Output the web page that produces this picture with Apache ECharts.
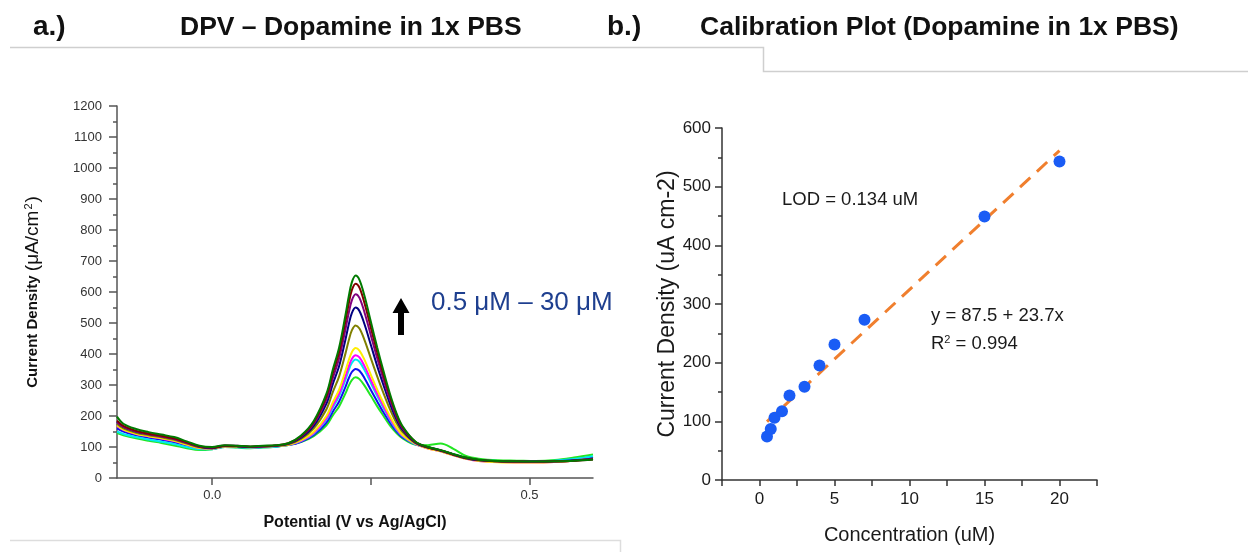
<!DOCTYPE html>
<html>
<head>
<meta charset="utf-8">
<script src="https://cdn.jsdelivr.net/npm/echarts@6/dist/echarts.min.js"></script>
<style>
html,body{margin:0;padding:0;background:#fff;}
#c{width:1248px;height:552px;}
</style>
</head>
<body>
<div id="c"></div>
<script>
// ---------- Panel a: DPV curves ----------
const potentials = [-0.15,-0.14,-0.12,-0.10,-0.08,-0.06,-0.04,-0.02,0.00,0.02,0.04,0.06,0.08,0.10,
  0.12,0.14,0.16,0.18,0.19,0.20,0.21,0.215,0.22,0.226,0.232,0.24,0.25,0.26,0.27,0.28,0.29,0.30,0.32,
  0.34,0.36,0.38,0.40,0.42,0.45,0.48,0.51,0.54,0.57,0.60];

const curveLime    = [145,138,128,120,113,105,96,90,93,100,98,96,98,101, 106,116,135,170,202,231,273,297,316,325,319,298,265,231,200,170,146,128,108, 106,111,94,71,62,57,56,55,58,66,76];
const curveBlue    = [160,150,138,130,123,115,104,95,94,101,100,98,100,102, 106,117,139,179,214,247,294,321,342,352,346,322,284,247,211,179,151,131,109, 99,89,76,64,57,54,53,54,55,60,68];
const curveCyan    = [150,142,132,124,117,110,100,93,93,100,99,97,99,101, 107,119,143,188,227,264,317,347,371,382,375,348,306,264,225,188,157,135,109, 99,89,77,65,58,55,54,54,56,61,70];
const curveMagenta = [168,155,142,134,127,119,107,97,95,102,102,99,101,103, 107,120,145,192,234,272,328,359,384,396,389,361,316,272,231,192,160,136,110, 95,86,73,62,55,52,50,50,52,56,62];
const curveYellow  = [170,156,143,135,128,120,108,97,95,102,101,99,101,103, 107,122,149,200,244,285,346,379,406,419,411,381,333,285,241,200,165,139,111, 95,86,73,62,55,51,50,50,52,56,62];
const curveOlive   = [175,160,146,138,131,123,111,99,96,103,102,100,102,104, 109,126,160,222,277,328,402,443,476,492,482,445,386,328,273,222,179,148,113, 98,88,75,64,58,54,53,52,53,56,61];
const curveNavy    = [182,165,150,142,135,127,114,101,96,103,102,100,102,104, 110,130,168,240,303,361,447,494,532,550,539,496,429,361,299,240,191,155,114, 98,88,75,64,57,54,53,53,54,57,63];
const curvePurple  = [180,165,150,141,134,126,113,101,98,105,104,101,102,104, 111,133,175,254,322,386,480,531,573,593,581,534,460,386,317,254,199,160,116, 99,89,76,65,58,54,53,52,53,56,61];
const curveDkRed   = [185,168,152,143,136,128,115,102,98,104,103,101,103,105, 112,135,180,264,338,406,506,561,606,627,614,564,485,406,332,264,206,164,117, 99,89,76,65,58,54,53,53,54,56,60];
const curveDkGreen = [198,175,158,148,140,132,118,104,100,106,104,102,104,106, 112,137,184,272,349,421,526,584,631,653,639,587,504,421,344,272,211,167,118, 100,90,77,66,59,55,54,53,54,56,60];

const dpvCurves = [curveLime, curveBlue, curveCyan, curveMagenta, curveYellow, curveOlive, curveNavy, curvePurple, curveDkRed, curveDkGreen];
const dpvColors = ['#22e622','#1010f0','#00e8f0','#ff00ff','#ffee00','#808000','#000080','#800080','#800000','#007a00'];

const dpvXTicks = [0, 0.25, 0.5];
const dpvXLabels = [0, 0.5];

// ---------- Panel b: calibration ----------
const concX = [0.5, 0.75, 1, 1.5, 2, 3, 4, 5, 7, 15, 20];
const currY = [74, 87, 106, 117, 144, 159, 195, 231, 273, 449, 543];
const fitX = [0.5, 20];
const fitY = [99.4, 561.5];
const calXTicks = [-2.5,0,2.5,5,7.5,10,12.5,15,17.5,20,22.5];
const calXLabels = [0,5,10,15,20];

const FONT = '"Liberation Sans", Arial, sans-serif';

const chart = echarts.init(document.getElementById('c'), null, {renderer:'canvas'});

const series = [];
dpvCurves.forEach((c, i) => {
  series.push({
    type: 'line', xAxisIndex: 0, yAxisIndex: 0,
    data: potentials.map((p, k) => [p, c[k]]),
    showSymbol: false, smooth: 0.35,
    lineStyle: {color: dpvColors[i], width: 2},
    itemStyle: {color: dpvColors[i]},
    z: 2 + i, silent: true, animation: false
  });
});
series.push({
  type: 'line', xAxisIndex: 1, yAxisIndex: 1,
  data: fitX.map((x, k) => [x, fitY[k]]),
  showSymbol: false,
  lineStyle: {color: '#F07F2E', width: 3, type: [14, 9]},
  z: 3, animation: false, silent: true
});
series.push({
  type: 'scatter', xAxisIndex: 1, yAxisIndex: 1,
  data: concX.map((x, k) => [x, currY[k]]),
  symbolSize: 12,
  itemStyle: {color: '#1A5CF5', opacity: 1},
  z: 4, animation: false, silent: true
});

const option = {
  animation: false,
  backgroundColor: '#ffffff',
  grid: [
    {left: 117, top: 106, width: 476, height: 372},
    {left: 722, top: 128, width: 375, height: 352}
  ],
  xAxis: [
    {
      gridIndex: 0, type: 'value', min: -0.15, max: 0.6,
      name: 'Potential (V vs Ag/AgCl)', nameLocation: 'middle', nameGap: 37,
      nameTextStyle: {fontFamily: FONT, fontSize: 16, fontWeight: 'bold', color: '#111'},
      axisLine: {show: true, onZero: false, lineStyle: {color: '#555', width: 1.5}},
      axisTick: {show: true, length: 7, customValues: dpvXTicks, lineStyle: {color: '#555', width: 1.5}},
      axisLabel: {customValues: dpvXLabels, margin: 11, fontFamily: FONT, fontSize: 13, color: '#333',
        formatter: v => v.toFixed(1)},
      splitLine: {show: false}
    },
    {
      gridIndex: 1, type: 'value', min: -2.5, max: 22.5,
      name: 'Concentration (uM)', nameLocation: 'middle', nameGap: 45,
      nameTextStyle: {fontFamily: FONT, fontSize: 20, color: '#1a1a1a'},
      axisLine: {show: true, onZero: false, lineStyle: {color: '#333', width: 1.5}},
      axisTick: {show: true, length: 6, customValues: calXTicks, lineStyle: {color: '#333', width: 1.5}},
      axisLabel: {customValues: calXLabels, margin: 11, fontFamily: FONT, fontSize: 17, color: '#1a1a1a'},
      splitLine: {show: false}
    }
  ],
  yAxis: [
    {
      gridIndex: 0, type: 'value', min: 0, max: 1200, interval: 100,
      name: '{b|Current Density }{n|(μA/cm}{s|2}{n|)}', nameLocation: 'middle', nameGap: 74,
      nameTextStyle: {fontFamily: FONT, color: '#111',
        rich: {
          b: {fontFamily: FONT, fontSize: 15, fontWeight: 'bold', color: '#111'},
          n: {fontFamily: FONT, fontSize: 19, color: '#111'},
          s: {fontFamily: FONT, fontSize: 11, color: '#111', verticalAlign: 'top', padding: [0,1,9,1]}
        }},
      axisLine: {show: true, onZero: false, lineStyle: {color: '#555', width: 1.5}},
      axisTick: {show: true, length: 8, lineStyle: {color: '#555', width: 1.5}},
      minorTick: {show: true, splitNumber: 2, length: 4, lineStyle: {color: '#555', width: 1.5}},
      axisLabel: {margin: 15, fontFamily: FONT, fontSize: 13, color: '#333', formatter: v => String(v)},
      splitLine: {show: false}, minorSplitLine: {show: false}
    },
    {
      gridIndex: 1, type: 'value', min: 0, max: 600, interval: 100,
      name: 'Current Density (uA cm-2)', nameLocation: 'middle', nameGap: 41,
      nameTextStyle: {fontFamily: FONT, fontSize: 23, color: '#1a1a1a'},
      axisLine: {show: true, onZero: false, lineStyle: {color: '#333', width: 1.5}},
      axisTick: {show: true, length: 7, lineStyle: {color: '#333', width: 1.5}},
      minorTick: {show: true, splitNumber: 2, length: 4, lineStyle: {color: '#333', width: 1.5}},
      axisLabel: {margin: 11, fontFamily: FONT, fontSize: 17, color: '#1a1a1a', formatter: v => String(v)},
      splitLine: {show: false}, minorSplitLine: {show: false}
    }
  ],
  series: series,
  graphic: [
    // frame lines from the original layout
    {type: 'polyline', shape: {points: [[10,47.5],[763.5,47.5],[763.5,71.5],[1248,71.5]]}, style: {stroke: '#cfcfcf', lineWidth: 1.5, fill: null}, silent: true},
    {type: 'polyline', shape: {points: [[10,540.5],[620.5,540.5],[620.5,552]]}, style: {stroke: '#dddddd', lineWidth: 1.5, fill: null}, silent: true},
    // titles
    {type: 'text', x: 33, y: 27, style: {text: 'a.)', font: 'bold 28px ' + FONT, fill: '#111', textVerticalAlign: 'middle'}},
    {type: 'text', x: 180, y: 28, style: {text: 'DPV – Dopamine in 1x PBS', font: 'bold 26.5px ' + FONT, fill: '#111', textVerticalAlign: 'middle'}},
    {type: 'text', x: 607, y: 27, style: {text: 'b.)', font: 'bold 28px ' + FONT, fill: '#111', textVerticalAlign: 'middle'}},
    {type: 'text', x: 700, y: 28, style: {text: 'Calibration Plot (Dopamine in 1x PBS)', font: 'bold 26.5px ' + FONT, fill: '#111', textVerticalAlign: 'middle'}},
    // DPV annotation
    {type: 'polygon', shape: {points: [[398,335],[404,335],[404,313],[409.5,313],[401,298],[392.5,313],[398,313]]}, style: {fill: '#000'}, silent: true},
    {type: 'text', x: 431, y: 303, style: {text: '0.5 μM – 30 μM', font: '26px ' + FONT, fill: '#1E3F8F', textVerticalAlign: 'middle'}},
    // calibration annotations
    {type: 'text', x: 782, y: 200, style: {text: 'LOD = 0.134 uM', font: '18.5px ' + FONT, fill: '#1a1a1a', textVerticalAlign: 'middle'}},
    {type: 'text', x: 931, y: 316, style: {text: 'y = 87.5 + 23.7x', font: '18.5px ' + FONT, fill: '#1a1a1a', textVerticalAlign: 'middle'}},
    {type: 'text', x: 931, y: 344, style: {
      text: '{a|R}{s|2}{a| = 0.994}', textVerticalAlign: 'middle',
      rich: {a: {font: '18.5px ' + FONT, fill: '#1a1a1a'}, s: {font: '11px ' + FONT, fill: '#1a1a1a', verticalAlign: 'top', padding: [0,0,8,0]}}
    }}
  ]
};
chart.setOption(option);
</script>
</body>
</html>
